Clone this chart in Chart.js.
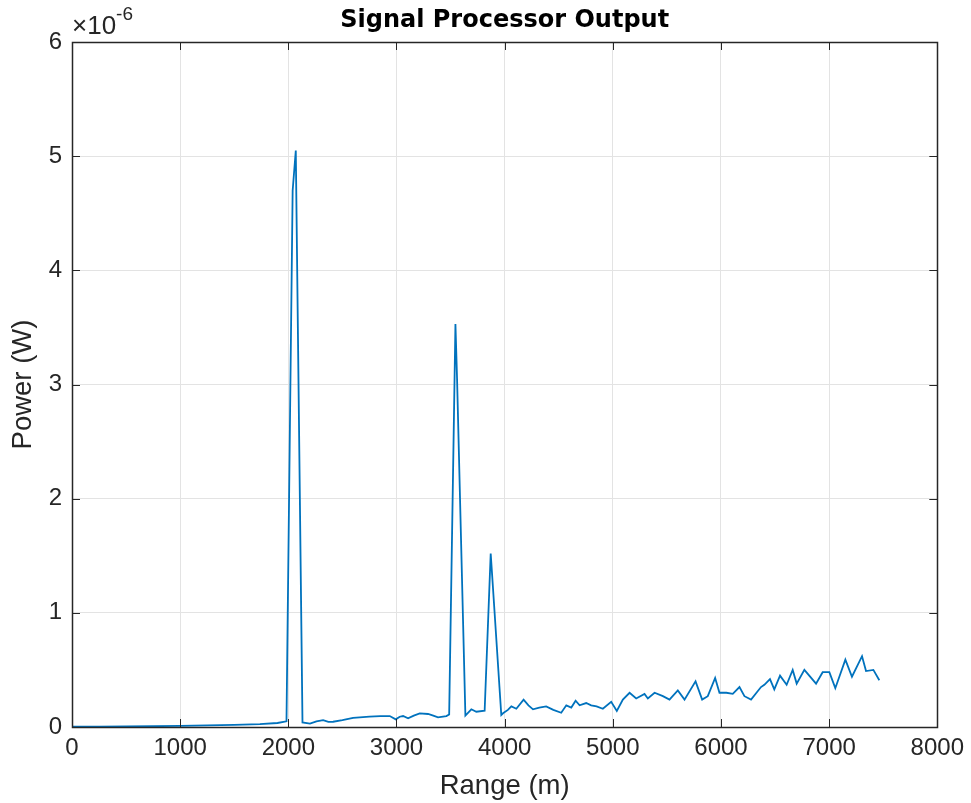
<!DOCTYPE html>
<html>
<head>
<meta charset="utf-8">
<script src="https://cdn.jsdelivr.net/npm/chart.js@4"></script>
<style>
  html, body { margin: 0; padding: 0; background: #fff; }
  #wrap { width: 971px; height: 803px; position: relative; }
</style>
</head>
<body>
<div id="wrap"><canvas id="chart"></canvas></div>
<script>
// Range bins (m) and power (in units of 1e-6 W)
const rangeM = [
    0, 250, 500, 750, 1000, 1250, 1500, 1737, 1900, 1983,
    2040, 2069, 2131, 2200, 2260, 2322, 2370, 2414, 2500, 2599,
    2660, 2750, 2850, 2938, 2993, 3030, 3061, 3107, 3160, 3215,
    3292, 3340, 3384, 3461, 3487, 3545, 3560, 3637, 3692, 3738,
    3815, 3871, 3885, 3969, 3985, 4030, 4062, 4108, 4175, 4220,
    4262, 4320, 4384, 4450, 4523, 4570, 4616, 4656, 4693, 4754,
    4800, 4850, 4908, 4985, 5037, 5093, 5155, 5216, 5293, 5324,
    5386, 5463, 5524, 5601, 5663, 5765, 5826, 5878, 5946, 5986,
    6050, 6109, 6171, 6217, 6278, 6370, 6401, 6453, 6493, 6546,
    6607, 6663, 6700, 6771, 6879, 6940, 7002, 7057, 7150, 7211,
    7304, 7341, 7409, 7464
];
const powerMicroW = [
    0.003, 0.003, 0.005, 0.007, 0.01, 0.014, 0.018, 0.026, 0.035, 0.05,
    4.7, 5.05, 0.04, 0.03, 0.05, 0.06, 0.045, 0.046, 0.06, 0.08,
    0.085, 0.09, 0.095, 0.096, 0.067, 0.09, 0.096, 0.076, 0.1, 0.12,
    0.114, 0.1, 0.085, 0.096, 0.11, 3.53, 3.05, 0.1, 0.155, 0.134,
    0.143, 1.52, 1.32, 0.105, 0.12, 0.15, 0.18, 0.16, 0.24, 0.19,
    0.155, 0.17, 0.18, 0.15, 0.125, 0.19, 0.17, 0.23, 0.19, 0.21,
    0.19, 0.18, 0.16, 0.22, 0.14, 0.24, 0.30, 0.25, 0.29, 0.25,
    0.30, 0.27, 0.24, 0.32, 0.24, 0.40, 0.24, 0.27, 0.43, 0.30,
    0.30, 0.29, 0.35, 0.27, 0.24, 0.35, 0.37, 0.42, 0.33, 0.45,
    0.37, 0.50, 0.38, 0.50, 0.38, 0.48, 0.48, 0.34, 0.59, 0.44,
    0.62, 0.49, 0.50, 0.41
];
const xTicks = [0, 1000, 2000, 3000, 4000, 5000, 6000, 7000, 8000];
const yTicks = [0, 1, 2, 3, 4, 5, 6];
const yExponent = '-6';
const chartTitle = 'Signal Processor Output';

const FONT = 'Arial, "Liberation Sans", Helvetica, sans-serif';
const TITLE_FONT = '"DejaVu Sans", Verdana, sans-serif';
const AXIS_COLOR = '#262626';
const TEXT_COLOR = '#262626';

// Box, inward ticks, title over the axes and the x10^-6 multiplier, MATLAB style
const matlabAxes = {
    id: 'matlabAxes',
    afterDraw(chart) {
        const { ctx, chartArea: a, scales } = chart;
        const len = 8;
        ctx.save();
        ctx.strokeStyle = AXIS_COLOR;
        ctx.lineWidth = 1;
        ctx.beginPath();
        xTicks.forEach(v => {
            const px = Math.round(scales.x.getPixelForValue(v)) + 0.5;
            ctx.moveTo(px, a.bottom); ctx.lineTo(px, a.bottom - len);
            ctx.moveTo(px, a.top); ctx.lineTo(px, a.top + len);
        });
        yTicks.forEach(v => {
            const py = Math.round(scales.y.getPixelForValue(v)) + 0.5;
            ctx.moveTo(a.left, py); ctx.lineTo(a.left + len, py);
            ctx.moveTo(a.right, py); ctx.lineTo(a.right - len, py);
        });
        ctx.stroke();
        ctx.lineWidth = 1.5;
        ctx.strokeRect(Math.round(a.left) + 0.5, Math.round(a.top) + 0.5,
            Math.round(a.right - a.left), Math.round(a.bottom - a.top));

        // title centred over the plot box
        ctx.fillStyle = '#000';
        ctx.textAlign = 'center';
        ctx.textBaseline = 'alphabetic';
        ctx.font = 'bold 24px ' + TITLE_FONT;
        ctx.fillText(chartTitle, (a.left + a.right) / 2, 27);

        // exponent label above the y axis
        ctx.fillStyle = TEXT_COLOR;
        ctx.textAlign = 'left';
        ctx.font = '26px ' + FONT;
        const base = '\u00d710';
        ctx.fillText(base, a.left, a.top - 8);
        const w = ctx.measureText(base).width;
        ctx.font = '19px ' + FONT;
        ctx.fillText(yExponent, a.left + w, a.top - 22);
        ctx.restore();
    }
};

const ctx = document.getElementById('chart');
new Chart(ctx, {
    type: 'line',
    data: {
        datasets: [{
            data: rangeM.map((r, i) => ({ x: r, y: powerMicroW[i] })),
            borderColor: '#0072BD',
            borderWidth: 1.8,
            pointRadius: 0,
            tension: 0,
            fill: false
        }]
    },
    options: {
        responsive: true,
        maintainAspectRatio: false,
        animation: false,
        layout: { padding: { left: 0, right: 33, top: 42, bottom: 0 } },
        plugins: {
            legend: { display: false },
            tooltip: { enabled: false },
            title: { display: false }
        },
        scales: {
            x: {
                type: 'linear',
                min: 0,
                max: 8000,
                afterFit(scale) { scale.height = 76; },
                afterBuildTicks(scale) { scale.ticks = xTicks.map(v => ({ value: v })); },
                grid: { color: '#e3e3e3', drawTicks: false },
                border: { display: false },
                ticks: {
                    color: TEXT_COLOR,
                    padding: 7,
                    maxRotation: 0,
                    font: { family: FONT, size: 24 },
                    callback: value => String(value)
                },
                title: {
                    display: true,
                    text: 'Range (m)',
                    color: TEXT_COLOR,
                    font: { family: FONT, size: 27.5 },
                    padding: { top: 0, bottom: 0 }
                }
            },
            y: {
                min: 0,
                max: 6,
                afterFit(scale) { scale.width = 72; },
                afterBuildTicks(scale) { scale.ticks = yTicks.map(v => ({ value: v })); },
                grid: { color: '#e3e3e3', drawTicks: false },
                border: { display: false },
                ticks: {
                    color: TEXT_COLOR,
                    padding: 10,
                    font: { family: FONT, size: 24 },
                    callback: value => String(value)
                },
                title: {
                    display: true,
                    text: 'Power (W)',
                    color: TEXT_COLOR,
                    font: { family: FONT, size: 27.5 },
                    padding: { top: 7, bottom: 0 }
                }
            }
        }
    },
    plugins: [matlabAxes]
});
</script>
</body>
</html>
